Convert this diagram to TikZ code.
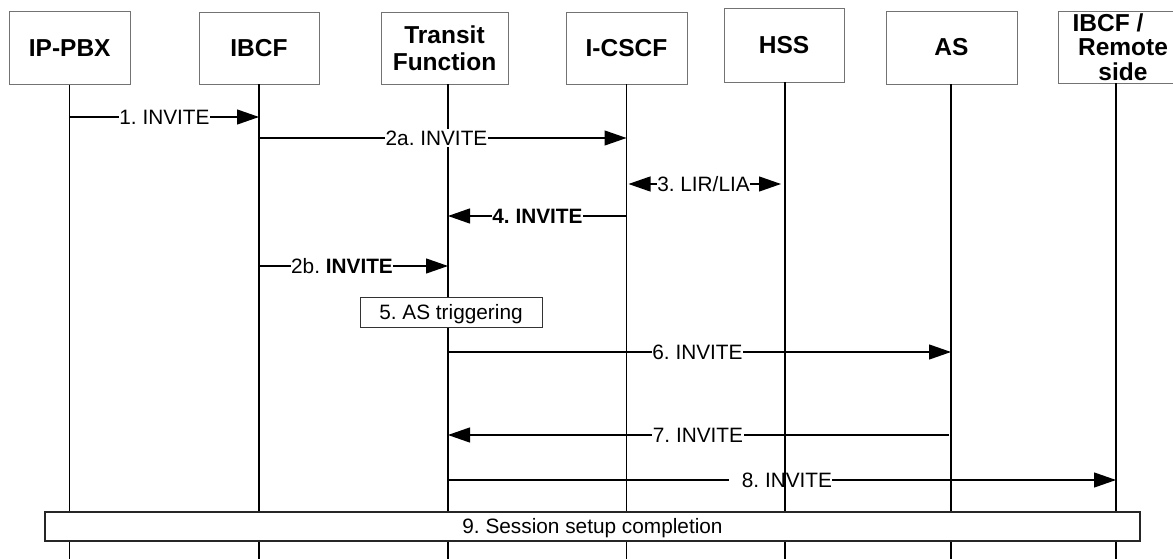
\documentclass[tikz,border=0pt]{standalone}
\usepackage{fontspec}
\setmainfont{Liberation Sans}
\usetikzlibrary{arrows.meta}
\frenchspacing
\begin{document}
\begin{tikzpicture}[x=1pt,y=-1pt,
  hdr/.style={draw=black!55, line width=0.9pt, fill=white, font=\fontsize{24.5}{27}\selectfont\bfseries, align=center, inner sep=0pt},
  life/.style={line width=1.2pt},
  msg/.style={line width=1.2pt, -{Triangle[length=22pt,width=15pt]}},
  plain/.style={line width=1.2pt},
  lbl/.style={fill=white, font=\frenchspacing\fontsize{20.8}{24}\selectfont, inner xsep=0.5pt, inner ysep=1.5pt, text height=14.8pt, text depth=0pt},
  lblnofill/.style={font=\frenchspacing\fontsize{20.8}{24}\selectfont, inner xsep=0pt, inner ysep=1pt, text height=14.8pt, text depth=0pt},
  stepbox/.style={draw=black!80, line width=1pt, fill=white, font=\frenchspacing\fontsize{20.8}{24}\selectfont, text height=14.8pt, text depth=0pt, inner sep=0pt}
]
\useasboundingbox (0,0) rectangle (1173,559);
\coordinate (bottom) at (0,559);

% header boxes
\node[hdr, minimum width=121pt, minimum height=72.5pt] (pbx) at (69.7,48) {IP-PBX};
\node[hdr, minimum width=120pt, minimum height=72pt] (ibcf) at (259,48) {IBCF};
\node[hdr, minimum width=127pt, minimum height=72pt] (tf) at (444.5,48) {Transit\\Function};
\node[hdr, minimum width=121pt, minimum height=72pt] (icscf) at (626.5,48) {I-CSCF};
\node[hdr, minimum width=120pt, minimum height=74pt] (hss) at (784,45) {HSS};
\node[hdr, minimum width=131pt, minimum height=73pt] (as) at (951.5,47.5) {AS};
\node[hdr, minimum width=130pt, minimum height=72pt, font=\fontsize{24.5}{24.5}\selectfont\bfseries] (rem) at (1123,47) {IBCF /\hspace*{30pt}\\Remote\\side};

\coordinate (tfx) at (448,0);
\coordinate (remx) at (1116,0);

% lifelines
\draw[life] (pbx.south) -- (pbx.south |- bottom);
\draw[life] (ibcf.south) -- (ibcf.south |- bottom);
\draw[life] (tfx |- tf.south) -- (tfx |- bottom);
\draw[life] (icscf.south) -- (icscf.south |- bottom);
\draw[life] (hss.south -| 785,0) -- (785,559);
\draw[life] (as.south -| 951,0) -- (951,559);
\draw[life] (remx |- rem.south) -- (remx |- bottom);

% message heights
\coordinate (m1) at (0,117);
\coordinate (m2a) at (0,138);
\coordinate (m3) at (0,184);
\coordinate (m4) at (0,216);
\coordinate (m2b) at (0,266);
\coordinate (m6) at (0,352);
\coordinate (m7) at (0,435);
\coordinate (m8) at (0,480);

% messages
\draw[msg] (pbx |- m1) -- (ibcf |- m1);
\node[lbl] (l1) at (164.5,117) {1. INVITE};

\draw[msg] (ibcf |- m2a) -- (icscf |- m2a);
\node[lbl] (l2a) at (436.5,138) {2a. INVITE};

\draw[line width=1.2pt, {Triangle[length=22pt,width=15pt]}-{Triangle[length=22pt,width=15pt]}, shorten <=2pt, shorten >=4pt] (icscf |- m3) -- (785,184);
\node[lbl] (l3) at (703.5,184) {3. LIR/LIA};

\draw[msg] (icscf |- m4) -- (tfx |- m4);
\node[lbl] (l4) at (537.5,216) {\bfseries 4. INVITE};

\draw[msg] (ibcf |- m2b) -- (tfx |- m2b);
\node[lbl] (l2b) at (342,266) {2b. \textbf{INVITE}};

\node[stepbox, minimum width=182pt, minimum height=30pt] (s5) at (451,312) {5. AS triggering};

\draw[msg] (tfx |- m6) -- (951,352);
\node[lbl] (l6) at (697.5,352) {6. INVITE};

\draw[msg] (949,435) -- (tfx |- m7);
\node[lbl] (l7) at (698,435) {7. INVITE};

\coordinate (c8) at (729,480);
\draw[plain] (tfx |- m8) -- (c8);
\node[lblnofill] (l8) at (787,480) {8. INVITE};
\draw[msg] (l8.east) -- (remx |- m8);

\node[stepbox, minimum width=1095pt, minimum height=29pt, line width=1.3pt, draw=black!85] (s9) at (592.5,526.5) {9. Session setup completion};
\end{tikzpicture}
\end{document}
